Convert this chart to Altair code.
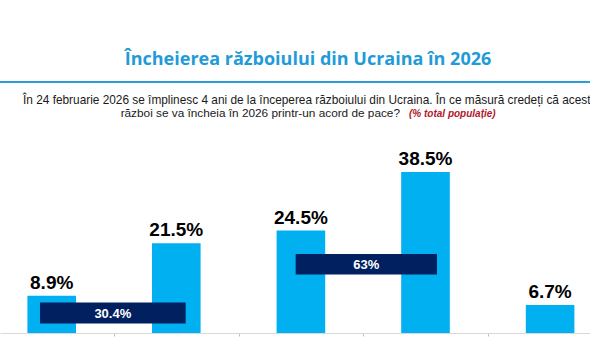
import altair as alt
import pandas as pd

# ---- data ----
categories = ["Cat1", "Cat2", "Cat3", "Cat4", "Cat5"]
values = [8.9, 21.5, 24.5, 38.5, 6.7]
group_labels = ["30.4%", "63%"]
group_start = [0, 2]   # first category index of each group
group_end = [1, 3]     # last category index of each group

title_text = "Încheierea războiului din Ucraina în 2026"
sub_line1 = "În 24 februarie 2026 se împlinesc 4 ani de la începerea războiului din Ucraina. În ce măsură credeți că acest"
sub_line2 = "război se va încheia în 2026 printr-un acord de pace?"
sub_note = "(% total populație)"

# ---- layout constants ----
W, H, PADB = 590, 333, 21
STEP = 124.6
C0 = 51.7
xdom = [-C0 / STEP, (W - C0) / STEP]
PX_PER_UNIT = 4.18
ydom = [0, H / PX_PER_UNIT]
BAR_HALF = 0.195

bars = pd.DataFrame({
    "cat": categories,
    "idx": list(range(len(categories))),
    "value": values,
})
bars["x1"] = bars["idx"] - BAR_HALF
bars["x2"] = bars["idx"] + BAR_HALF
bars["label"] = [f"{v:.1f}%" for v in values]

# annotation boxes (extents around grouped categories)
left_off = [-0.094, -0.042]
right_off = [0.075, 0.092]
box_y = [(2.3, 7.32), (14.0, 18.9)]
boxes = pd.DataFrame({
    "label": group_labels,
    "x1": [s + o for s, o in zip(group_start, left_off)],
    "x2": [e + o for e, o in zip(group_end, right_off)],
    "y1": [b[0] for b in box_y],
    "y2": [b[1] for b in box_y],
})
boxes["xm"] = (boxes["x1"] + boxes["x2"]) / 2
boxes["ym"] = (boxes["y1"] + boxes["y2"]) / 2

xs = alt.Scale(domain=xdom, nice=False, zero=False)
ys = alt.Scale(domain=ydom, nice=False, zero=False)

axis_x = alt.Axis(
    values=[0.5, 1.5, 2.5, 3.5], labels=False, title=None, grid=False,
    tickSize=3, tickColor="#bfbfbf", domainColor="#d9d9d9", domainWidth=1,
)

bar_layer = alt.Chart(bars).mark_bar(color="#00B0F0").encode(
    x=alt.X("x1:Q", scale=xs, axis=axis_x),
    x2="x2:Q",
    y=alt.Y("value:Q", scale=ys, axis=None),
    y2=alt.datum(0),
)

val_text = alt.Chart(bars).mark_text(
    font="Liberation Sans", fontSize=19, fontWeight="bold", color="#000000",
    baseline="alphabetic", align="center", dy=-7,
).encode(
    x=alt.X("idx:Q", scale=xs),
    y=alt.Y("value:Q", scale=ys),
    text="label:N",
)

box_layer = alt.Chart(boxes).mark_rect(color="#002060").encode(
    x=alt.X("x1:Q", scale=xs),
    x2="x2:Q",
    y=alt.Y("y1:Q", scale=ys),
    y2="y2:Q",
)

box_text = alt.Chart(boxes).mark_text(
    font="Liberation Sans", fontSize=13, fontWeight="bold", color="#ffffff",
    baseline="middle", align="center", dy=1,
).encode(
    x=alt.X("xm:Q", scale=xs),
    y=alt.Y("ym:Q", scale=ys),
    text="label:N",
)

head = pd.DataFrame({"t": [title_text]})
title_layer = alt.Chart(head).mark_text(
    font="Open Sans", fontSize=18, fontWeight="bold", color="#1F9BD7",
    align="center", baseline="alphabetic",
).encode(x=alt.value(308), y=alt.value(65), text="t:N")

rule_layer = alt.Chart(head).mark_rule(color="#2A9FD6", strokeWidth=2).encode(
    x=alt.value(0), x2=alt.value(W), y=alt.value(82)
)

s1 = pd.DataFrame({"t": [sub_line1]})
sub1_layer = alt.Chart(s1).mark_text(
    font="Liberation Sans", fontSize=11.85, color="#1a1a1a",
    align="left", baseline="alphabetic",
).encode(x=alt.value(23), y=alt.value(103.5), text="t:N")

s2 = pd.DataFrame({"t": [sub_line2]})
sub2_layer = alt.Chart(s2).mark_text(
    font="Liberation Sans", fontSize=11.8, color="#1a1a1a",
    align="right", baseline="alphabetic",
).encode(x=alt.value(400), y=alt.value(116.8), text="t:N")

s3 = pd.DataFrame({"t": [sub_note]})
note_layer = alt.Chart(s3).mark_text(
    font="Liberation Sans", fontSize=10, fontWeight="bold", fontStyle="italic",
    color="#B0182C", align="left", baseline="alphabetic",
).encode(x=alt.value(409), y=alt.value(116.8), text="t:N")

chart = alt.layer(
    bar_layer, box_layer, val_text, box_text,
    title_layer, rule_layer, sub1_layer, sub2_layer, note_layer,
).properties(
    width=W, height=H,
    autosize=alt.AutoSizeParams(type="none"),
    padding={"left": 0, "top": 0, "right": 0, "bottom": PADB},
    background="#ffffff",
).configure_view(stroke=None)

chart.save("out.html", embed_options={"renderer": "svg", "actions": False})
